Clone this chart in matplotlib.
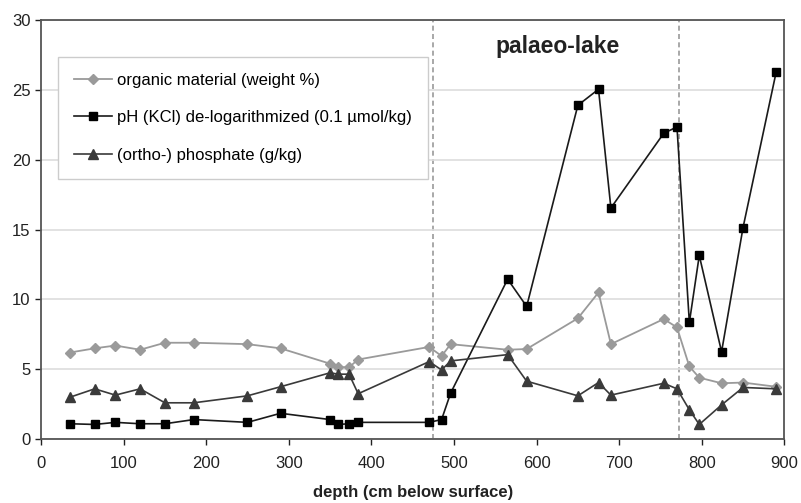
import numpy as np
import matplotlib.pyplot as plt

plt.rcParams['font.family'] = ['Liberation Sans', 'DejaVu Sans']

# depth of each sample (cm below surface)
depth = [35, 65, 90, 120, 150, 185, 250, 290, 350, 360, 373, 384,
         470, 485, 496, 565, 588, 650, 675, 690, 754, 770, 785, 797,
         824, 850, 890]

organic = [6.2, 6.5, 6.7, 6.4, 6.9, 6.9, 6.8, 6.5, 5.4, 5.15, 5.15, 5.7,
           6.6, 5.95, 6.8, 6.4, 6.45, 8.65, 10.5, 6.8, 8.6, 8.0, 5.2,
           4.4, 4.0, 4.05, 3.75]

ph_delog = [1.1, 1.05, 1.2, 1.1, 1.1, 1.4, 1.2, 1.85, 1.4, 1.05, 1.1, 1.2,
            1.2, 1.4, 3.3, 11.45, 9.5, 23.9, 25.05, 16.55, 21.9, 22.35,
            8.35, 13.15, 6.25, 15.15, 26.25]

phosphate = [3.0, 3.6, 3.15, 3.6, 2.6, 2.6, 3.1, 3.75, 4.75, 4.65, 4.65,
             3.25, 5.55, 4.95, 5.6, 6.05, 4.15, 3.1, 4.05, 3.15, 4.0, 3.6,
             2.1, 1.05, 2.45, 3.7, 3.6]

lake_bounds = [475, 773]

fig = plt.figure(figsize=(8.01, 5.03), dpi=100, facecolor='w')
ax = fig.add_axes([0.0512, 0.127, 0.928, 0.833])

ax.plot(depth, organic, '-D', color='#9a9a9a', ms=5, lw=1.3,
        label='organic material (weight %)')
ax.plot(depth, ph_delog, '-s', color='#1a1a1a', mfc='black', mec='black',
        ms=6.3, lw=1.2, label='pH (KCl) de-logarithmized (0.1 \u00b5mol/kg)')
ax.plot(depth, phosphate, '-^', color='#3a3a3a', ms=7, lw=1.2,
        label='(ortho-) phosphate (g/kg)')

for b in lake_bounds:
    ax.axvline(b, color='#999999', ls=(0, (3, 2)), lw=1.2, zorder=0)

ax.text(626, 28.1, 'palaeo-lake', fontsize=16.5, fontweight='bold',
        color='#222222', ha='center', va='center')

ax.set_xlim(0, 900)
ax.set_ylim(0, 30)
ax.set_xticks(np.arange(0, 901, 100))
ax.set_yticks(np.arange(0, 31, 5))
ax.yaxis.grid(True, color='#dddddd', lw=1.2)
ax.set_axisbelow(True)
ax.tick_params(labelsize=12, colors='#222222', length=4, width=1)
ax.tick_params(axis='x', pad=8)
for s in ax.spines.values():
    s.set_color('#555555')
    s.set_linewidth(1.3)

ax.set_xlabel('depth (cm below surface)', fontsize=12, fontweight='bold',
              color='#222222', labelpad=10)

leg = ax.legend(loc='upper left', bbox_to_anchor=(0.023, 0.912),
                borderaxespad=0, fontsize=12, labelspacing=1.35,
                handlelength=2.3, handletextpad=0.3, borderpad=0.95,
                fancybox=False, framealpha=1, edgecolor='#cccccc')
leg.get_frame().set_linewidth(1.0)

fig.savefig('out.png', dpi=100, facecolor='w')
